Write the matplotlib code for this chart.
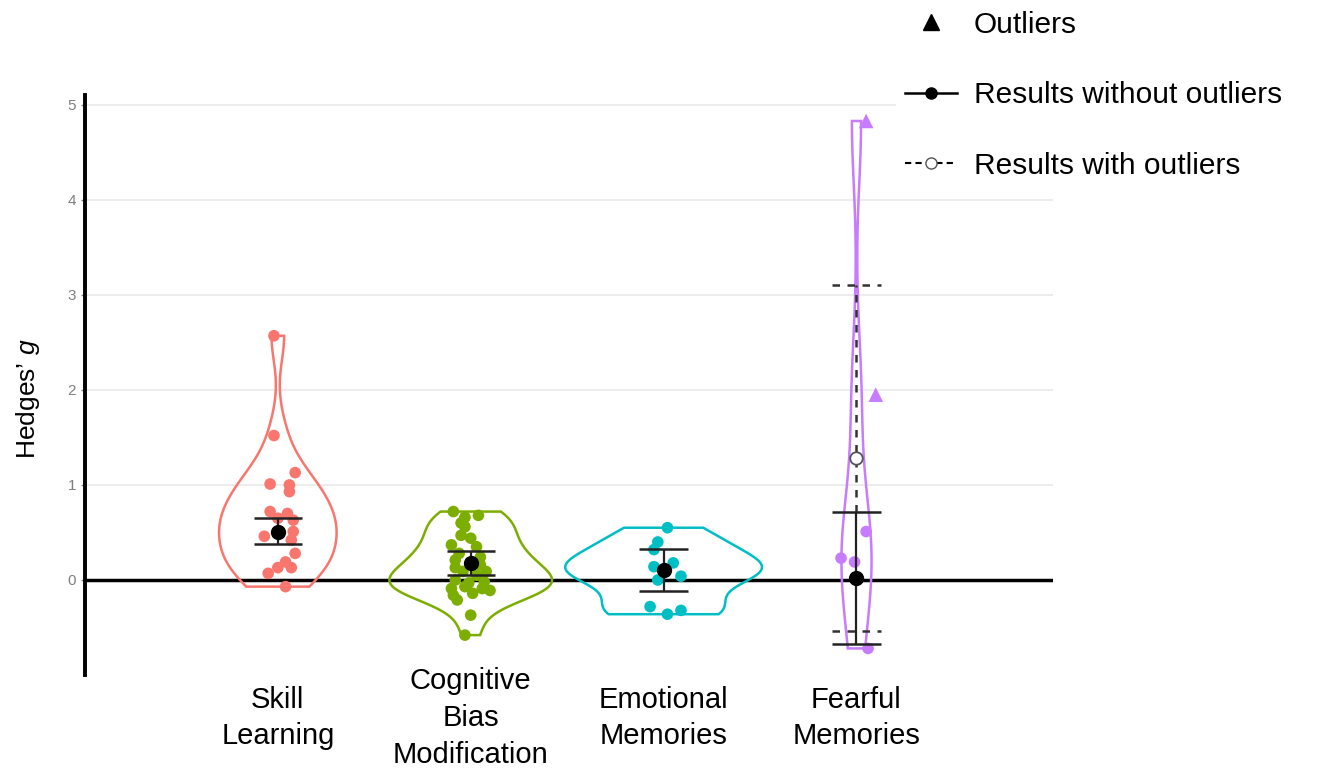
import numpy as np
import matplotlib
matplotlib.use('Agg')
from matplotlib import pyplot as plt
from matplotlib.lines import Line2D

plt.rcParams['font.family'] = ['Liberation Sans', 'DejaVu Sans']
plt.rcParams['mathtext.fontset'] = 'custom'
plt.rcParams['mathtext.it'] = 'Liberation Sans:italic'
plt.rcParams['mathtext.rm'] = 'Liberation Sans'

# categories and colours
categories = ['Skill\nLearning', 'Cognitive\nBias\nModification',
              'Emotional\nMemories', 'Fearful\nMemories']
colors = ['#F8766D', '#7CAE00', '#00BFC4', '#C77CFF']

# effect sizes, with the horizontal jitter of each dot
skill_g = [2.57, 1.52, 1.13, 1.01, 1.00, 0.93, 0.72, 0.70, 0.65, 0.63,
           0.51, 0.46, 0.42, 0.28, 0.19, 0.13, 0.13, 0.07, -0.07]
skill_dx = [-0.02, -0.02, 0.09, -0.04, 0.06, 0.06, -0.04, 0.05, 0.0, 0.08,
            0.08, -0.07, 0.07, 0.09, 0.04, 0.0, 0.07, -0.05, 0.04]

cbm_g = [0.72, 0.66, 0.68, 0.60, 0.56, 0.47, 0.44, 0.37, 0.35, 0.28,
         0.24, 0.21, 0.16, 0.13, 0.09, 0.09, 0.05, 0.00, -0.03, -0.02,
         -0.09, -0.07, -0.11, -0.09, -0.16, -0.14, -0.21, -0.37, -0.58]
cbm_dx = [-0.09, -0.03, 0.04, -0.05, -0.03, -0.05, 0.0, -0.10, 0.03, -0.06,
          0.05, -0.08, 0.05, -0.08, -0.04, 0.08, 0.03, -0.08, -0.01, 0.07,
          -0.10, -0.03, 0.10, 0.06, -0.09, 0.01, -0.07, 0.0, -0.03]

emo_g = [0.55, 0.40, 0.32, 0.18, 0.14, 0.11, 0.04, 0.00, -0.28, -0.36, -0.32]
emo_dx = [0.02, -0.03, -0.05, 0.05, -0.05, 0.0, 0.09, -0.03, -0.07, 0.02, 0.09]

fear_g = [0.51, 0.23, 0.19, -0.72]
fear_dx = [0.05, -0.08, -0.01, 0.06]
fear_out_g = [4.83, 1.95]
fear_out_dx = [0.05, 0.10]

# pooled estimates without outliers
est = [0.51, 0.18, 0.11, 0.02]
ci_lo = [0.38, 0.05, -0.12, -0.67]
ci_hi = [0.65, 0.31, 0.33, 0.72]
# fearful memories with outliers
est_with = 1.28
ci_with = [-0.54, 3.10]

groups_g = [skill_g, cbm_g, emo_g, fear_g + fear_out_g]
groups_dx = [skill_dx, cbm_dx, emo_dx, fear_dx]
groups_pts = [skill_g, cbm_g, emo_g, fear_g]
# violin width factors to match the picture
width_scale = [1.0, 0.85, 1.0, 0.55]


def kde(values, n=256):
    v = np.asarray(values, dtype=float)
    sd = v.std(ddof=1)
    iqr = np.subtract(*np.percentile(v, [75, 25])) / 1.34
    bw = 0.9 * min(sd, iqr if iqr > 0 else sd) * len(v) ** -0.2
    y = np.linspace(v.min(), v.max(), n)
    d = np.exp(-0.5 * ((y[:, None] - v[None, :]) / bw) ** 2).sum(axis=1)
    d /= len(v) * bw * np.sqrt(2 * np.pi)
    return y, d


fig = plt.figure(figsize=(13.21, 7.75), dpi=100)
ax = fig.add_axes([0.0643, 0.129, 0.733, 0.748])

positions = np.arange(1, 5)
dens = [kde(g) for g in groups_g]
dmax = max(d.max() for _, d in dens)
half_max = 0.51

for i, (y, d) in enumerate(dens):
    w = d / dmax * half_max * width_scale[i]
    px = np.concatenate([positions[i] - w, (positions[i] + w)[::-1]])
    py = np.concatenate([y, y[::-1]])
    ax.fill(px, py, fill=False, edgecolor=colors[i], lw=1.8, zorder=3)
    ax.scatter(positions[i] + np.array(groups_dx[i]), groups_pts[i], s=70,
               color=colors[i], edgecolors='none', zorder=4)

ax.scatter(positions[3] + np.array(fear_out_dx), fear_out_g, marker='^', s=110,
           color=colors[3], edgecolors='none', zorder=4)

cap = 0.125
# results with outliers (fearful only)
ax.vlines(positions[3], ci_hi[3], ci_with[1], color='#333333', lw=1.8,
          linestyles=(0, (3, 3)), zorder=5)
ax.hlines(ci_with, positions[3] - cap, positions[3] + cap, color='#333333',
          lw=1.8, linestyles=(0, (3, 3)), zorder=5)
ax.plot(positions[3], est_with, 'o', ms=9, mfc='white', mec='#555555', mew=1.3,
        zorder=6)

# results without outliers
ax.vlines(positions, ci_lo, ci_hi, color='#222222', lw=1.6, zorder=5)
for lo, hi, p in zip(ci_lo, ci_hi, positions):
    ax.hlines([lo, hi], p - cap, p + cap, color='#222222', lw=1.8, zorder=5)
ax.plot(positions, est, 'o', ms=10, color='black', zorder=6)

ax.axhline(0, color='black', lw=2.5, zorder=2)

ax.set_xlim(0, 5.02)
ax.set_ylim(-1.0, 5.1)
ax.set_yticks(range(0, 6))
ax.yaxis.grid(True, color='#EBEBEB', lw=1.3)
ax.set_axisbelow(True)
ax.set_xticks([])
ax.tick_params(axis='y', colors='#7F7F7F', labelsize=11, length=3, width=1)
for s in ['top', 'right', 'bottom']:
    ax.spines[s].set_visible(False)
ax.spines['left'].set_linewidth(2.8)
ax.spines['left'].set_color('black')

for p, lab in zip(positions, categories):
    ax.text(p, -0.074, lab, transform=ax.get_xaxis_transform(), ha='center',
            va='center', fontsize=21, linespacing=1.4)

fig.text(0.021, 0.485, 'Hedges\u2019 $g$', rotation=90, ha='center',
         va='center', fontsize=19)

handles = [
    Line2D([], [], marker='^', ls='none', color='black', ms=12),
    Line2D([], [], marker='o', ls='-', color='black', ms=8, lw=1.8),
    Line2D([], [], marker='o', ls=(0, (3, 2)), color='black', mfc='white',
           mec='#555555', ms=8, lw=1.5),
]
labels = ['Outliers', 'Results without outliers', 'Results with outliers']
fig.legend(handles, labels, loc='upper left', bbox_to_anchor=(0.667, 1.017),
           fontsize=21.5, frameon=True, facecolor='white', edgecolor='none',
           framealpha=1, labelspacing=1.42, handlelength=1.75,
           handletextpad=0.55, borderpad=0.3)

fig.savefig('out.png', dpi=100)
